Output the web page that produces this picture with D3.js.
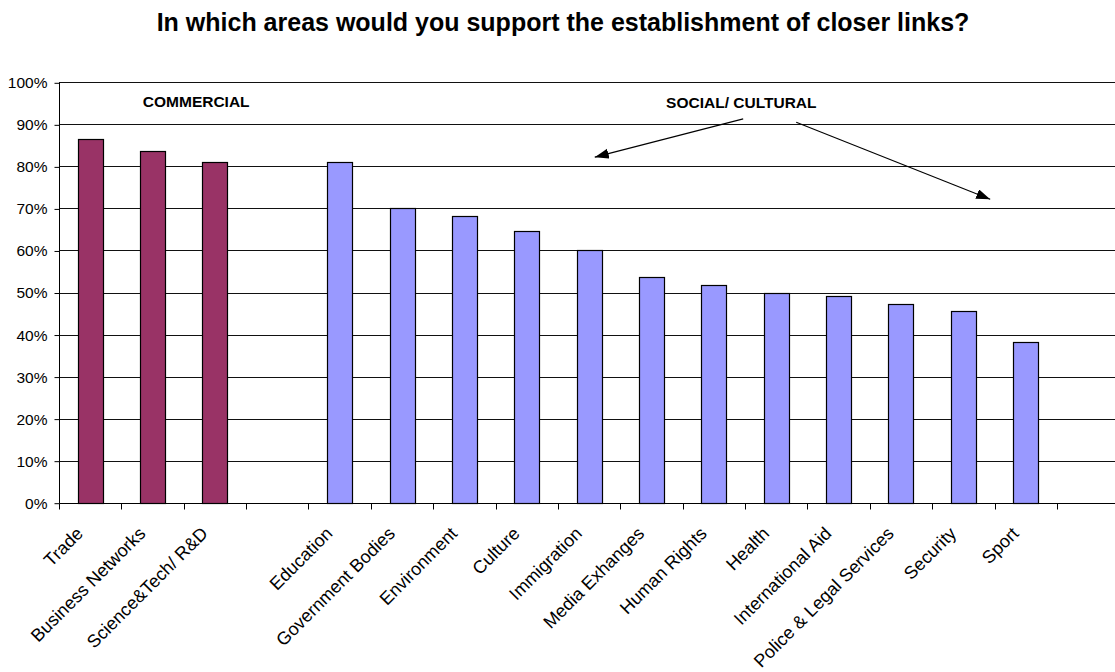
<!DOCTYPE html>
<html>
<head>
<meta charset="utf-8">
<script src="https://cdn.jsdelivr.net/npm/d3@7"></script>
<style>
  html, body { margin: 0; padding: 0; background: #fff; }
  svg { display: block; }
  text { font-family: "Liberation Sans", Arial, sans-serif; fill: #000; }
</style>
</head>
<body>
<svg id="chart" width="1115" height="672"></svg>
<script>
const title = "In which areas would you support the establishment of closer links?";
const categories = ["Trade", "Business Networks", "Science&Tech/ R&D", "",
  "Education", "Government Bodies", "Environment", "Culture", "Immigration",
  "Media Exhanges", "Human Rights", "Health", "International Aid",
  "Police & Legal Services", "Security", "Sport"];
const values = [86.5, 83.7, 81.0, null,
  81.0, 70.1, 68.3, 64.7, 60.1,
  53.8, 51.9, 50.0, 49.2,
  47.3, 45.6, 38.2];
const groups = ["commercial", "commercial", "commercial", null,
  "social", "social", "social", "social", "social",
  "social", "social", "social", "social",
  "social", "social", "social"];
const groupColors = { commercial: "#993366", social: "#9999FF" };
const yTicks = [0, 10, 20, 30, 40, 50, 60, 70, 80, 90, 100];
const groupLabels = [
  { text: "COMMERCIAL", x: 2.2, y: 94.1 },
  { text: "SOCIAL/ CULTURAL", x: 10.94, y: 94.0 }
];
const arrows = [
  { x1: 10.97, y1: 91.3, x2: 8.59, y2: 82.2 },
  { x1: 11.82, y1: 90.5, x2: 14.93, y2: 72.2 }
];

(function () {
const svg = d3.select("#chart");
const mLeft = 59, mTop = 82.3, mBottom = 502.7;
const slot = 62.37;
const nSlots = categories.length + 1; // trailing empty slot, cut off by the frame

const x = d3.scaleLinear().domain([0, nSlots]).range([mLeft, mLeft + nSlots * slot]);
const y = d3.scaleLinear().domain([0, 100]).range([mBottom, mTop]);

// title
svg.append("text")
  .attr("x", 563).attr("y", 31)
  .attr("text-anchor", "middle")
  .style("font-size", "25px").style("font-weight", "bold")
  .text(title);

// gridlines
svg.append("g").selectAll("line").data(yTicks.filter(d => d > 0)).join("line")
  .attr("x1", mLeft).attr("x2", 1115)
  .attr("y1", d => Math.round(y(d)) + 0.5).attr("y2", d => Math.round(y(d)) + 0.5)
  .attr("stroke", "#111").attr("stroke-width", 1);

// bars
const bw = 25;
svg.append("g").selectAll("rect")
  .data(categories.map((c, i) => ({ c, i, v: values[i], g: groups[i] })).filter(d => d.v != null))
  .join("rect")
  .attr("x", d => Math.round(x(d.i + 0.5) - bw / 2) + 0.5)
  .attr("y", d => Math.round(y(d.v)) + 0.5)
  .attr("width", bw)
  .attr("height", d => Math.round(y(0)) - Math.round(y(d.v)))
  .attr("fill", d => groupColors[d.g])
  .attr("stroke", "#000").attr("stroke-width", 1.2);

// y axis
const yAxis = d3.axisLeft(y).tickValues(yTicks).tickSize(5).tickPadding(7)
  .tickFormat(d => d + "%");
const gy = svg.append("g").attr("transform", `translate(${mLeft + 0.5},0.5)`).call(yAxis);
gy.select(".domain").attr("stroke", "#000").attr("d", `M0,${Math.round(y(100))}V${Math.round(y(0))}`);
gy.selectAll(".tick line").attr("stroke", "#000");
gy.selectAll(".tick text").style("font-size", "15.5px")
  .style("font-family", '"Liberation Sans", Arial, sans-serif');

// x axis (ticks at slot boundaries)
const gx = svg.append("g").attr("transform", `translate(0.5,${Math.round(y(0)) + 0.5})`);
gx.append("line").attr("x1", mLeft).attr("x2", 1115).attr("stroke", "#000");
gx.selectAll("line.tk").data(d3.range(0, nSlots + 1)).join("line").attr("class", "tk")
  .attr("x1", d => Math.round(x(d))).attr("x2", d => Math.round(x(d)))
  .attr("y1", 0).attr("y2", 6).attr("stroke", "#000");

// x labels
svg.append("g").selectAll("text").data(categories.map((c, i) => ({ c, i })).filter(d => d.c))
  .join("text")
  .attr("transform", d => `translate(${x(d.i + 0.5) - 10.5},${y(0) + 27.5}) rotate(-45)`)
  .attr("text-anchor", "end")
  .attr("dy", "0.35em")
  .style("font-size", "18px")
  .text(d => d.c);

// group labels
svg.append("g").selectAll("text").data(groupLabels).join("text")
  .attr("x", d => x(d.x)).attr("y", d => y(d.y))
  .attr("text-anchor", "middle")
  .style("font-size", "15.5px").style("font-weight", "bold")
  .text(d => d.text);

// arrows
svg.append("defs").append("marker")
  .attr("id", "ah").attr("markerUnits", "userSpaceOnUse")
  .attr("markerWidth", 16).attr("markerHeight", 12)
  .attr("refX", 14).attr("refY", 5).attr("orient", "auto")
  .append("path").attr("d", "M0,0L14,5L0,10Z").attr("fill", "#000");
svg.append("g").selectAll("line").data(arrows).join("line")
  .attr("x1", d => x(d.x1)).attr("y1", d => y(d.y1))
  .attr("x2", d => x(d.x2)).attr("y2", d => y(d.y2))
  .attr("stroke", "#000").attr("stroke-width", 1.1)
  .attr("marker-end", "url(#ah)");
})();
</script>
</body>
</html>
